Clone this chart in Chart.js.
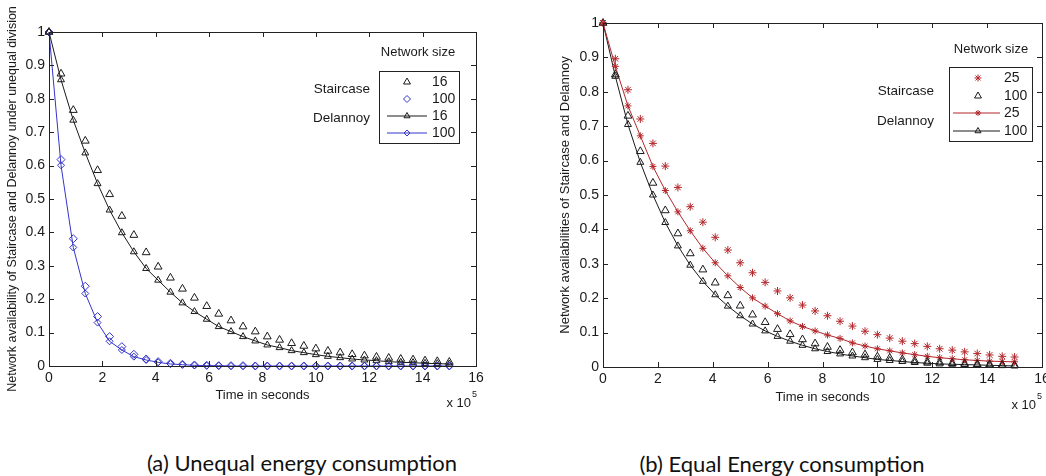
<!DOCTYPE html>
<html>
<head>
<meta charset="utf-8">
<script src="https://cdn.jsdelivr.net/npm/chart.js@4/dist/chart.umd.min.js"></script>
<style>
  html, body { margin: 0; padding: 0; background: #fff; overflow: hidden; }
  body { width: 1046px; height: 476px; position: relative; }
  .box { position: absolute; top: 0; height: 420px; }
  .caption { position: absolute; font-family: Lato, "Open Sans", sans-serif; font-size: 22px; color: #111; white-space: nowrap; transform: translate(-50%, -50%); }
</style>
</head>
<body>
<div class="box" style="left:0; width:490px;"><canvas id="chartA"></canvas></div>
<div class="box" style="left:545px; width:515px;"><canvas id="chartB"></canvas></div>
<div class="caption" style="left:302px; top:462px;">(a) Unequal energy consumption</div>
<div class="caption" style="left:782px; top:463px;">(b) Equal Energy consumption</div>
<script>
// time samples (x 10^5 s)
const timeX = [0, 0.45, 0.91, 1.36, 1.82, 2.27, 2.73, 3.18, 3.64, 4.09, 4.55, 5.0, 5.45, 5.91, 6.36, 6.82, 7.27,
  7.73, 8.18, 8.64, 9.09, 9.55, 10.0, 10.45, 10.91, 11.36, 11.82, 12.27, 12.73, 13.18, 13.64, 14.09, 14.55, 15.0];

// (a) unequal energy consumption
const stair16 = [1, 0.875, 0.766, 0.674, 0.586, 0.514, 0.449, 0.392, 0.340, 0.297, 0.264, 0.231, 0.204, 0.179, 0.156,
  0.136, 0.118, 0.103, 0.088, 0.078, 0.068, 0.060, 0.052, 0.045, 0.040, 0.035, 0.031, 0.027, 0.024, 0.021, 0.019, 0.016, 0.014, 0.012];
const stair100a = [1, 0.618, 0.381, 0.239, 0.148, 0.088, 0.058, 0.035, 0.021, 0.013, 0.008, 0.005, 0.003, 0.002, 0.001,
  0.001, 0.001, 0, 0, 0, 0, 0, 0, 0, 0, 0, 0, 0, 0, 0, 0, 0, 0, 0];
const delannoy16 = [1, 0.857, 0.736, 0.638, 0.546, 0.467, 0.399, 0.342, 0.292, 0.257, 0.221, 0.189, 0.163, 0.140, 0.118,
  0.103, 0.088, 0.075, 0.063, 0.055, 0.046, 0.040, 0.034, 0.029, 0.025, 0.021, 0.018, 0.016, 0.013, 0.011, 0.010, 0.008, 0.007, 0.006];
const delannoy100a = [1, 0.601, 0.355, 0.217, 0.130, 0.074, 0.048, 0.028, 0.018, 0.011, 0.006, 0.004, 0.002, 0.001, 0.001,
  0, 0, 0, 0, 0, 0, 0, 0, 0, 0, 0, 0, 0, 0, 0, 0, 0, 0, 0];

// (b) equal energy consumption
const stair25 = [1, 0.896, 0.806, 0.721, 0.650, 0.584, 0.522, 0.466, 0.421, 0.377, 0.340, 0.303, 0.274, 0.246, 0.221,
  0.201, 0.180, 0.163, 0.149, 0.133, 0.119, 0.104, 0.094, 0.084, 0.075, 0.068, 0.060, 0.053, 0.049, 0.044, 0.039, 0.035, 0.031, 0.029];
const stair100b = [1, 0.85, 0.73, 0.627, 0.535, 0.455, 0.388, 0.330, 0.283, 0.245, 0.208, 0.178, 0.152, 0.130, 0.110,
  0.095, 0.080, 0.068, 0.058, 0.049, 0.042, 0.036, 0.030, 0.026, 0.022, 0.018, 0.015, 0.013, 0.011, 0.009, 0.008, 0.007, 0.006, 0.005];
const delannoy25 = [1, 0.874, 0.759, 0.672, 0.583, 0.513, 0.451, 0.396, 0.345, 0.303, 0.265, 0.231, 0.201, 0.177, 0.155,
  0.134, 0.118, 0.105, 0.093, 0.083, 0.070, 0.061, 0.053, 0.047, 0.041, 0.036, 0.031, 0.027, 0.024, 0.021, 0.019, 0.017, 0.016, 0.015];
const delannoy100b = [1, 0.845, 0.705, 0.595, 0.500, 0.420, 0.352, 0.296, 0.249, 0.210, 0.177, 0.149, 0.125, 0.105, 0.089,
  0.075, 0.063, 0.053, 0.045, 0.038, 0.032, 0.027, 0.022, 0.019, 0.016, 0.013, 0.011, 0.009, 0.008, 0.007, 0.006, 0.005, 0.004, 0.003];

const FONT = "'Liberation Sans', Arial, sans-serif";
const BLACK = '#1a1a1a';
const BLUE = '#3434c8';
const RED = '#b3262a';

function pts(ys) {
    return ys.map((y, i) => ({ x: timeX[i], y: y }));
}

function series(label, ys, color, style, radius, line) {
    return {
        label: label,
        data: pts(ys),
        showLine: line,
        borderColor: color,
        borderWidth: 1,
        backgroundColor: 'rgba(0,0,0,0)',
        pointStyle: style,
        pointRadius: radius,
        pointBorderColor: color,
        pointBackgroundColor: 'rgba(0,0,0,0)',
        pointBorderWidth: 1,
        tension: 0,
        clip: false
    };
}

// box + inward ticks, MATLAB style
const framePlugin = {
    id: 'frame',
    afterDraw(chart) {
        const { ctx, chartArea: a, scales: { x, y } } = chart;
        ctx.save();
        ctx.strokeStyle = '#222';
        ctx.lineWidth = 1;
        ctx.strokeRect(Math.round(a.left) + 0.5, Math.round(a.top) + 0.5, Math.round(a.right - a.left), Math.round(a.bottom - a.top));
        ctx.beginPath();
        x.ticks.forEach(t => {
            const px = Math.round(x.getPixelForValue(t.value)) + 0.5;
            ctx.moveTo(px, a.bottom); ctx.lineTo(px, a.bottom - 5);
            ctx.moveTo(px, a.top); ctx.lineTo(px, a.top + 5);
        });
        y.ticks.forEach(t => {
            const py = Math.round(y.getPixelForValue(t.value)) + 0.5;
            ctx.moveTo(a.left, py); ctx.lineTo(a.left + 5, py);
            ctx.moveTo(a.right, py); ctx.lineTo(a.right - 5, py);
        });
        ctx.stroke();

        // axis multiplier
        const m = chart.options.plugins.frame;
        ctx.fillStyle = BLACK;
        ctx.font = '13px ' + FONT;
        ctx.textAlign = 'right';
        ctx.textBaseline = 'middle';
        ctx.fillText('x 10', a.right + m.expDx, a.bottom + m.expDy);
        ctx.font = '9px ' + FONT;
        ctx.textAlign = 'left';
        ctx.fillText('5', a.right + m.expDx + 1, a.bottom + m.expDy - 8);
        ctx.restore();
    }
};

// legend box in the upper right, as in the figure
const boxLegendPlugin = {
    id: 'boxLegend',
    afterDraw(chart) {
        const o = chart.options.plugins.boxLegend;
        const { ctx, chartArea: a } = chart;
        const R = a.right, T = a.top;
        ctx.save();
        ctx.fillStyle = '#fff';
        ctx.fillRect(R + o.box[0], T + o.box[1], o.box[2], o.box[3]);
        ctx.strokeStyle = '#222';
        ctx.lineWidth = 1;
        ctx.strokeRect(Math.round(R + o.box[0]) + 0.5, Math.round(T + o.box[1]) + 0.5, o.box[2], o.box[3]);

        ctx.fillStyle = BLACK;
        ctx.textBaseline = 'middle';
        ctx.font = '13px ' + FONT;
        ctx.textAlign = 'center';
        ctx.fillText('Network size', R + o.titleX, T + o.titleY);
        ctx.textAlign = 'right';
        ctx.font = '13.5px ' + FONT;
        ctx.fillText('Staircase', R + o.groupX, T + o.groupY[0]);
        ctx.fillText('Delannoy', R + o.groupX, T + o.groupY[1]);

        chart.data.datasets.forEach((ds, i) => {
            const yy = T + o.rowY[i];
            if (ds.showLine) {
                ctx.strokeStyle = ds.borderColor;
                ctx.beginPath();
                ctx.moveTo(R + o.lineX[0], yy);
                ctx.lineTo(R + o.lineX[1], yy);
                ctx.stroke();
            }
            ctx.strokeStyle = ds.pointBorderColor;
            ctx.fillStyle = ds.pointBackgroundColor;
            Chart.helpers.drawPoint(ctx, { pointStyle: ds.pointStyle, radius: ds.pointRadius - 0.5, rotation: 0, borderWidth: 1 }, R + o.markX, yy);
            ctx.fillStyle = BLACK;
            ctx.font = '14px ' + FONT;
            ctx.textAlign = 'left';
            ctx.fillText(ds.label, R + o.textX, yy);
        });
        ctx.restore();
    }
};

function makeChart(id, datasets, cfg) {
    return new Chart(document.getElementById(id), {
        type: 'scatter',
        data: { datasets: datasets },
        options: {
            responsive: true,
            maintainAspectRatio: false,
            animation: false,
            layout: { padding: { top: cfg.padTop, right: cfg.padRight, bottom: cfg.padBottom, left: 0 } },
            plugins: {
                legend: { display: false },
                tooltip: { enabled: false },
                frame: { expDx: cfg.expDx, expDy: cfg.expDy },
                boxLegend: cfg.legend
            },
            scales: {
                x: {
                    type: 'linear', min: 0, max: 16,
                    afterFit: s => { s.height = cfg.xHeight; },
                    ticks: { stepSize: 2, color: BLACK, padding: 4, maxRotation: 0, font: { family: FONT, size: 14 } },
                    grid: { display: false, drawTicks: false },
                    border: { display: false },
                    title: { display: true, text: 'Time in seconds', color: BLACK, padding: 0, font: { family: FONT, size: 13 } }
                },
                y: {
                    type: 'linear', min: 0, max: 1,
                    afterFit: s => { s.width = cfg.yWidth; },
                    ticks: {
                        stepSize: 0.1, color: BLACK, padding: 4, font: { family: FONT, size: 14 },
                        callback: v => String(parseFloat(v.toFixed(1)))
                    },
                    grid: { display: false, drawTicks: false },
                    border: { display: false },
                    title: { display: true, text: cfg.yTitle, color: BLACK, padding: { top: cfg.yTitlePad, bottom: 0 }, font: { family: FONT, size: cfg.yTitleSize } }
                }
            }
        },
        plugins: [framePlugin, boxLegendPlugin]
    });
}

makeChart('chartA', [
    series('16', stair16, BLACK, 'triangle', 4.5, false),
    series('100', stair100a, BLUE, 'rectRot', 4, false),
    series('16', delannoy16, BLACK, 'triangle', 4, true),
    series('100', delannoy100a, BLUE, 'rectRot', 3.5, true)
], {
    padTop: 32, padRight: 14, padBottom: 17, xHeight: 37, yWidth: 49,
    yTitle: 'Network availability of Staircase and Delannoy under unequal division', yTitlePad: 5, yTitleSize: 12.5,
    expDx: -5, expDy: 37,
    legend: {
        box: [-97, 39, 80, 72], titleX: -58, titleY: 20, groupX: -106, groupY: [57, 86],
        rowY: [50, 67, 84, 101], markX: -69, lineX: [-89, -49], textX: -44
    }
});

makeChart('chartB', [
    series('25', stair25, RED, 'star', 4, false),
    series('100', stair100b, BLACK, 'triangle', 4.5, false),
    series('25', delannoy25, RED, 'star', 3.5, true),
    series('100', delannoy100b, BLACK, 'triangle', 4, true)
], {
    padTop: 23, padRight: 18, padBottom: 15, xHeight: 38, yWidth: 58,
    yTitle: 'Network availabilities of Staircase and Delannoy', yTitlePad: 13, yTitleSize: 13,
    expDx: -6, expDy: 38,
    legend: {
        box: [-93, 44, 83, 74], titleX: -51, titleY: 26, groupX: -108, groupY: [68, 98],
        rowY: [55, 73, 90, 108], markX: -64, lineX: [-89, -42], textX: -38
    }
});
</script>
</body>
</html>
